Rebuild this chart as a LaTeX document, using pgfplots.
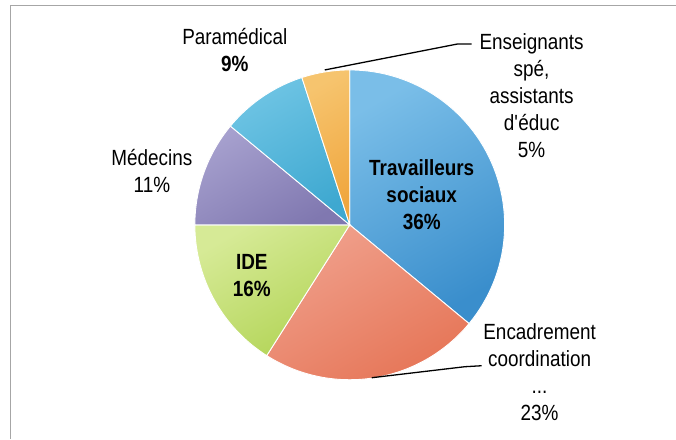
\documentclass[border=0pt]{standalone}
\usepackage{pgfplots}
\usepackage{pgfplotstable}
\pgfplotsset{compat=1.18}
\usepackage{fontspec}
\setmainfont{Liberation Sans}[FakeStretch=0.86]

\definecolor{lTS}{RGB}{122,190,232}
\definecolor{dTS}{RGB}{58,142,204}
\definecolor{lENC}{RGB}{240,160,140}
\definecolor{dENC}{RGB}{230,118,88}
\definecolor{lIDE}{RGB}{214,234,150}
\definecolor{dIDE}{RGB}{178,212,86}
\definecolor{lMED}{RGB}{166,160,206}
\definecolor{dMED}{RGB}{128,120,176}
\definecolor{lPARA}{RGB}{110,196,228}
\definecolor{dPARA}{RGB}{62,168,208}
\definecolor{lENS}{RGB}{246,196,110}
\definecolor{dENS}{RGB}{240,166,62}

\tikzset{lbl/.style={font=\fontsize{22bp}{27bp}\selectfont, align=center, inner sep=0pt}}

% share of each group, clockwise from 12 o'clock
\pgfplotstableread{
name pct light dark
TS 36 lTS dTS
ENC 23 lENC dENC
IDE 16 lIDE dIDE
MED 11 lMED dMED
PARA 9 lPARA dPARA
ENS 5 lENS dENS
}\piedata

\begin{document}
\begin{tikzpicture}
\begin{axis}[
  width=676bp, height=439bp, scale only axis,
  xmin=0, xmax=676, ymin=0, ymax=439, y dir=reverse,
  hide axis, clip=false,
]
% invisible corners so that the picture keeps the whole axis area
\addplot[draw=none, mark=none] coordinates {(0,0) (676,439)};
% frame
\addplot[gray!70, line width=1pt, mark=none] coordinates {(11,439) (11,6) (676,6)};

% pie slices
\def\angA{90}
\pgfplotstablegetrowsof{\piedata}
\pgfmathtruncatemacro\lastrow{\pgfplotsretval-1}
\pgfplotsforeachungrouped \i in {0,...,\lastrow}{%
  \pgfplotstablegetelem{\i}{pct}\of\piedata \let\p=\pgfplotsretval
  \pgfplotstablegetelem{\i}{light}\of\piedata \let\cl=\pgfplotsretval
  \pgfplotstablegetelem{\i}{dark}\of\piedata \let\cd=\pgfplotsretval
  \pgfmathsetmacro\angB{\angA-3.6*\p}%
  \edef\temp{\noexpand\addplot[top color=\cl, bottom color=\cd, shading angle=30,
     draw=white, line width=0.9pt, mark=none,
     domain=\angB:\angA, samples=60, variable=\noexpand\t]
     ({350+155*cos(\noexpand\t)},{225-155*sin(\noexpand\t)}) -- (axis cs:350,225) -- cycle;}%
  \temp
  \let\angA=\angB
}

% leader lines
\addplot[black, line width=1.3pt, mark=none] coordinates {(325,70) (458,44) (472,44)};
\addplot[black, line width=1.3pt, mark=none] coordinates {(372,378) (465,367) (482,366)};

% labels
\node[lbl] at (axis cs:235,50) {Paramédical\\\textbf{9\%}};
\node[lbl] at (axis cs:532,96) {Enseignants\\spé,\\assistants\\d\textquotesingle éduc\\5\%};
\node[lbl] at (axis cs:152,171) {Médecins\\11\%};
\node[lbl] at (axis cs:422,195) {\textbf{Travailleurs}\\\textbf{sociaux}\\\textbf{36\%}};
\node[lbl] at (axis cs:252,276) {\textbf{IDE}\\\textbf{16\%}};
\node[lbl] at (axis cs:540,372) {Encadrement\\coordination\\...\\23\%};
\end{axis}
\end{tikzpicture}
\end{document}
